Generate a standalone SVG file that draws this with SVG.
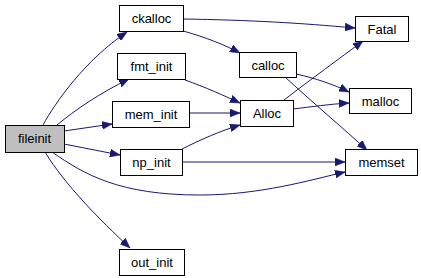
<svg xmlns="http://www.w3.org/2000/svg" width="421" height="278" viewBox="0 0 421 278">
<defs>
<style>
.node rect{fill:#ffffff;stroke:#000000;stroke-width:1}
.node.root rect{fill:#bfbfbf}
.node text{font-family:"Liberation Sans",Arial,sans-serif;font-size:13px;fill:#000000;text-anchor:middle}
.edges path{fill:none;stroke:#191970;stroke-width:1;marker-end:url(#arr)}
</style>
<marker id="arr" markerUnits="userSpaceOnUse" markerWidth="11" markerHeight="8" refX="10" refY="4" orient="auto">
<path d="M0,0 L10,4 L0,8 z" fill="#191970" stroke="#191970" stroke-width="0.5"/>
</marker>
</defs>
<rect width="421" height="278" fill="#ffffff"/>
<g id="edges" class="edges">
<path d="M43,125 C55,103 85,60 127,32"/>
<path d="M57,125 C75,110 100,93 129,79"/>
<path d="M64,131 L112,124"/>
<path d="M64,144 L120,155"/>
<path d="M52,152 C85,175 120,195 200,195 C260,195 310,180 345,172"/>
<path d="M45,152 C65,185 100,220 130,248"/>
<path d="M183,19 C250,20 300,23 355,28"/>
<path d="M183,31 C205,37 225,45 240,53"/>
<path d="M185,80 C205,87 225,96 240,103"/>
<path d="M189,113 L240,113"/>
<path d="M182,149 C200,140 220,131 240,125"/>
<path d="M182,162 L345,162"/>
<path d="M296,74 C315,78 335,85 349,92"/>
<path d="M285,77 C310,100 345,130 367,150"/>
<path d="M284,100 C310,80 340,58 363,41"/>
<path d="M293,109 C310,107 330,104 349,103"/>
</g>
<g id="fileinit" class="node root"><rect x="5.5" y="125.5" width="59" height="27"/><text x="34.5" y="143">fileinit</text></g>
<g id="ckalloc" class="node"><rect x="119.5" y="5.5" width="64" height="26"/><text x="151.5" y="23">ckalloc</text></g>
<g id="fmt_init" class="node"><rect x="117.5" y="53.5" width="68" height="26"/><text x="151.5" y="71">fmt_init</text></g>
<g id="mem_init" class="node"><rect x="112.5" y="101.5" width="77" height="26"/><text x="151" y="119">mem_init</text></g>
<g id="np_init" class="node"><rect x="120.5" y="149.5" width="62" height="26"/><text x="151.5" y="167">np_init</text></g>
<g id="out_init" class="node"><rect x="119.5" y="249.5" width="65" height="26"/><text x="152" y="267">out_init</text></g>
<g id="Fatal" class="node"><rect x="355.5" y="16.5" width="53" height="25"/><text x="382" y="33.5">Fatal</text></g>
<g id="calloc" class="node"><rect x="239.5" y="52.5" width="57" height="25"/><text x="268" y="69.5">calloc</text></g>
<g id="malloc" class="node"><rect x="349.5" y="88.5" width="62" height="25"/><text x="380.5" y="105.5">malloc</text></g>
<g id="Alloc" class="node"><rect x="240.5" y="100.5" width="53" height="26"/><text x="267" y="118">Alloc</text></g>
<g id="memset" class="node"><rect x="345.5" y="149.5" width="72" height="26"/><text x="381.5" y="167">memset</text></g>
</svg>
